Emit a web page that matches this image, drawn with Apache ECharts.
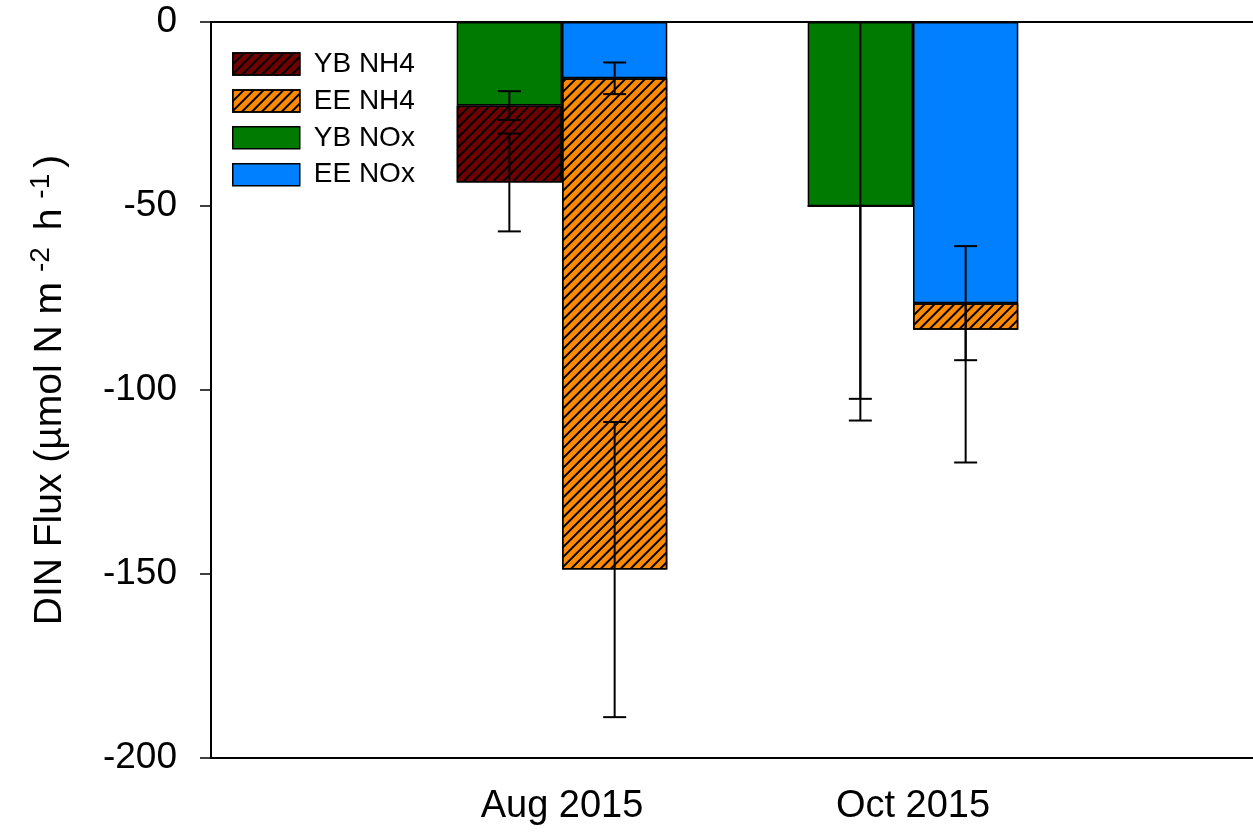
<!DOCTYPE html>
<html>
<head>
<meta charset="utf-8">
<title>DIN Flux</title>
<script src="https://cdn.jsdelivr.net/npm/echarts@6/dist/echarts.min.js"></script>
<style>
  html, body { margin: 0; padding: 0; background: #fff; }
  #chart { width: 1253px; height: 836px; }
</style>
</head>
<body>
<div id="chart"></div>
<script>
// Sampling dates (x categories)
const categories = ['Aug 2015', 'Oct 2015'];

// Mean fluxes (µmol N m-2 h-1); NOx stacks from zero, NH4 stacks below it
const ybNOx = [-22.7, -50.1];
const ybNH4 = [-20.9, 0];
const eeNOx = [-15.3, -76.4];
const eeNH4 = [-133.5, -7.2];

// Standard errors
const ybNOxErr = [3.9, 58.2];
const ybNH4Err = [13.3, 52.3];
const eeNOxErr = [4.3, 15.5];
const eeNH4Err = [40.1, 36.1];

// Y axis tick setup
const yMin = -200, yMax = 0, yStep = 50;

const FONT = '"Liberation Sans", Arial, Helvetica, sans-serif';
const BAR_FRAC = 0.30;   // each bar's share of the category band

// Category axis padded with an empty slot on each side
const axisCats = [''].concat(categories, ['']);
const pad = arr => ['-'].concat(arr, ['-']);

const hatch = {
  symbol: 'rect',
  symbolSize: 1,
  dashArrayX: [1, 0],
  dashArrayY: [2, 5],
  rotation: -Math.PI / 4,
  color: '#000'
};

function barSeries(name, stack, data, color, z, hatched) {
  return {
    name, type: 'bar', stack,
    data: pad(data),
    barWidth: (BAR_FRAC * 100) + '%',
    barGap: '0%',
    z,
    itemStyle: Object.assign(
      { color, borderColor: '#000', borderWidth: 1.5 },
      hatched ? { decal: hatch } : {}
    ),
    emphasis: { disabled: true }
  };
}

// Error bar centred on the stacked end of a segment
function errorSeries(centers, errs, side, z) {
  const data = centers.map((c, i) => [i + 1, c, errs[i]]);
  return {
    type: 'custom',
    z,
    clip: true,
    silent: true,
    encode: { x: 0, y: 1 },
    data,
    renderItem(params, api) {
      const band = api.size([1, 0])[0];
      const dx = side * BAR_FRAC * band / 2;
      const c = api.value(1), e = api.value(2);
      const hi = api.coord([api.value(0), c + e]);
      const lo = api.coord([api.value(0), c - e]);
      const x = hi[0] + dx;
      const cap = 11.5;
      const style = { stroke: '#000', lineWidth: 2 };
      return {
        type: 'group',
        children: [
          { type: 'line', shape: { x1: x, y1: hi[1], x2: x, y2: lo[1] }, style },
          { type: 'line', shape: { x1: x - cap, y1: hi[1], x2: x + cap, y2: hi[1] }, style },
          { type: 'line', shape: { x1: x - cap, y1: lo[1], x2: x + cap, y2: lo[1] }, style }
        ]
      };
    }
  };
}

const ybTotal = ybNOx.map((v, i) => v + ybNH4[i]);
const eeTotal = eeNOx.map((v, i) => v + eeNH4[i]);

const chart = echarts.init(document.getElementById('chart'), null, { renderer: 'canvas' });

chart.setOption({
  animation: false,
  backgroundColor: '#fff',
  textStyle: { fontFamily: FONT },
  grid: {
    left: 211, top: 22, width: 1053, bottom: 78,
    outerBoundsMode: 'none',
    containLabel: false,
    show: true, borderColor: '#000', borderWidth: 2, backgroundColor: 'transparent'
  },
  legend: {
    data: ['YB NH4', 'EE NH4', 'YB NOx', 'EE NOx'],
    orient: 'vertical',
    left: 227, top: 45,
    itemWidth: 67, itemHeight: 22, itemGap: 8.9,
    icon: 'rect',
    selectedMode: false,
    itemStyle: { borderColor: '#000', borderWidth: 1.5 },
    textStyle: { fontFamily: FONT, fontSize: 28, color: '#000', padding: [0, 0, 0, 9] }
  },
  xAxis: {
    type: 'category',
    data: axisCats,
    boundaryGap: false,
    axisLine: { lineStyle: { color: '#000', width: 2 } },
    axisTick: {
      length: 12, inside: false,
      interval: (idx, val) => val !== '',
      lineStyle: { color: '#000', width: 1.5 }
    },
    axisLabel: {
      interval: 0, margin: 30,
      fontFamily: FONT, fontSize: 38, color: '#000'
    },
    splitLine: { show: false }
  },
  yAxis: {
    type: 'value',
    min: yMin, max: yMax, interval: yStep,
    axisLine: { show: true, lineStyle: { color: '#000', width: 2 } },
    axisTick: { show: true, inside: false, length: 11, lineStyle: { color: '#000', width: 1.5 } },
    axisLabel: { margin: 34, fontFamily: FONT, fontSize: 37, color: '#000' },
    splitLine: { show: false },
    name: 'DIN Flux (µmol N m{sup|-2} h{sup|-1})',
    nameLocation: 'middle',
    nameRotate: 90,
    nameGap: 138,
    nameTextStyle: {
      fontFamily: FONT, fontSize: 39, color: '#000', lineHeight: 46,
      rich: {
        sup: { fontFamily: FONT, fontSize: 28, color: '#000', verticalAlign: 'top', lineHeight: 46, padding: [0, 6, 0, 10] }
      }
    }
  },
  series: [
    barSeries('YB NOx', 'YB', ybNOx, '#007a00', 4, false),
    barSeries('YB NH4', 'YB', ybNH4, '#700000', 2, true),
    barSeries('EE NOx', 'EE', eeNOx, '#0080ff', 4, false),
    barSeries('EE NH4', 'EE', eeNH4, '#ff8a00', 2, true),
    errorSeries(ybTotal, ybNH4Err, -1, 3),
    errorSeries(eeTotal, eeNH4Err, 1, 3),
    errorSeries(ybNOx, ybNOxErr, -1, 5),
    errorSeries(eeNOx, eeNOxErr, 1, 5)
  ]
});
</script>
</body>
</html>
